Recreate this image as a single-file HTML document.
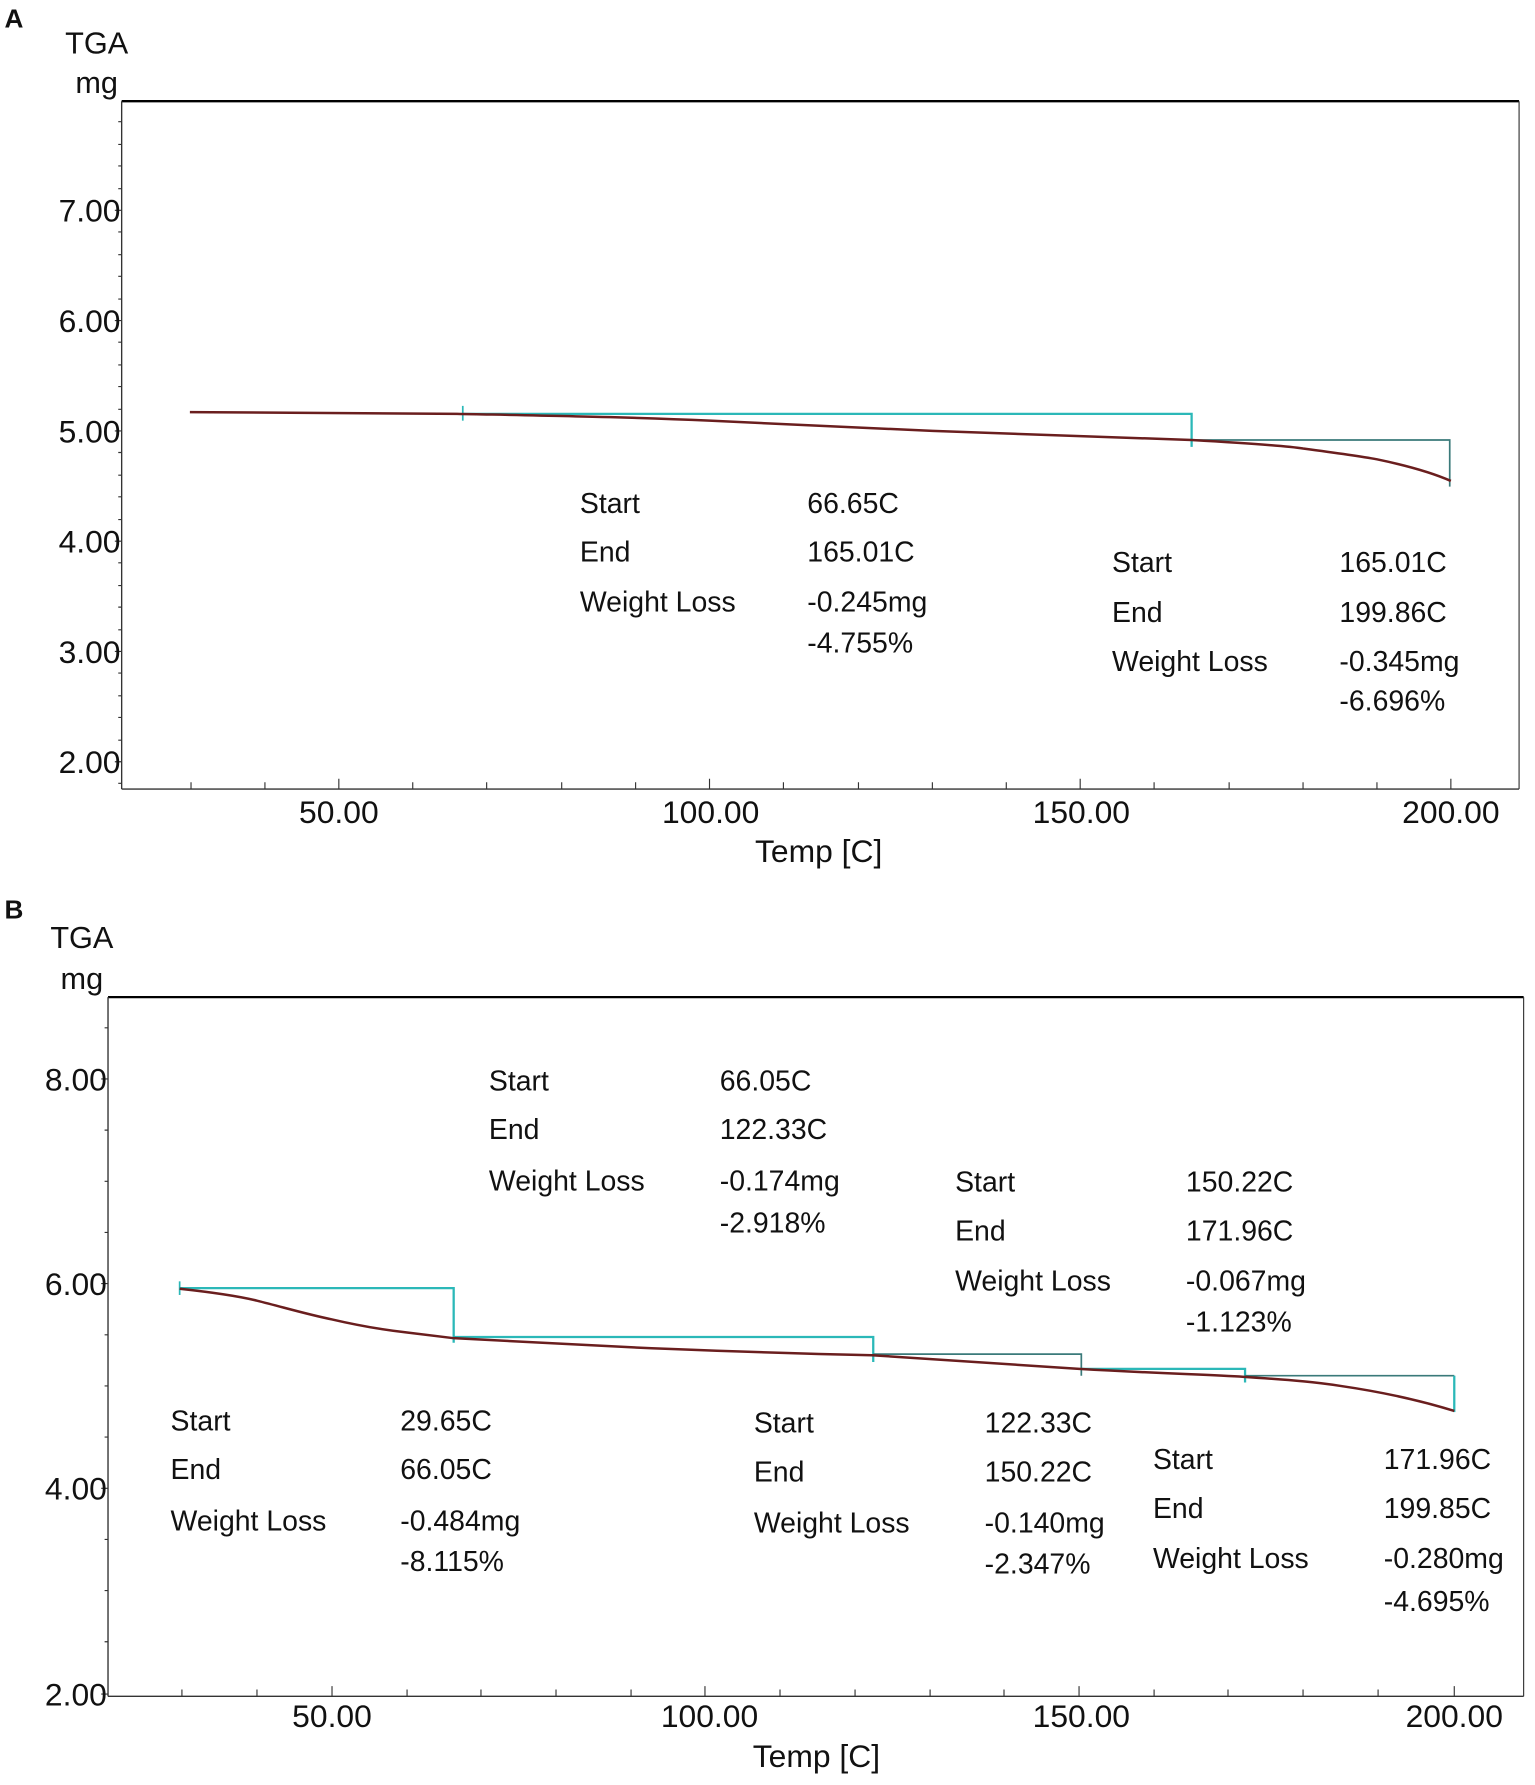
<!DOCTYPE html>
<html><head><meta charset="utf-8"><style>
html,body{margin:0;padding:0;background:#fff;}
svg{display:block}
text{font-family:"Liberation Sans Narrow","Liberation Sans",sans-serif;fill:#111}
</style></head><body>
<svg width="1535" height="1785" viewBox="0 0 1350 1570" preserveAspectRatio="none">
<!-- Panel A -->
<text x="4" y="24" font-size="23" font-weight="bold" style="font-family:'Liberation Sans'">A</text>
<text x="85" y="47" font-size="27" text-anchor="middle">TGA</text>
<text x="85" y="82" font-size="27" text-anchor="middle">mg</text>
<line x1="107" y1="89" x2="1336" y2="89" stroke="#000" stroke-width="2"/>
<line x1="1336" y1="89" x2="1336" y2="694" stroke="#333" stroke-width="1"/>
<line x1="107" y1="89" x2="107" y2="694" stroke="#333" stroke-width="1.2"/>
<line x1="107" y1="694" x2="1336" y2="694" stroke="#333" stroke-width="1.2"/>
<g stroke="#333" stroke-width="1">
<path d="M107 185h-6M107 282h-6M107 379h-6M107 476h-6M107 573h-6M107 670h-6"/>
<path d="M107 107h-3M107 127h-3M107 146h-3M107 166h-3M107 204h-3M107 224h-3M107 243h-3M107 263h-3M107 301h-3M107 321h-3M107 340h-3M107 360h-3M107 398h-3M107 418h-3M107 437h-3M107 457h-3M107 495h-3M107 515h-3M107 534h-3M107 554h-3M107 592h-3M107 612h-3M107 631h-3M107 651h-3M107 689h-3"/>
<path d="M168 694v-6M233 694v-6M298 694v-9M363 694v-6M428 694v-6M494 694v-6M559 694v-6M624 694v-9M689 694v-6M755 694v-6M820 694v-6M885 694v-6M950 694v-9M1015 694v-6M1081 694v-6M1146 694v-6M1211 694v-6M1276 694v-9"/>
</g>
<g font-size="28" text-anchor="end">
<text x="106" y="195">7.00</text><text x="106" y="292">6.00</text><text x="106" y="389">5.00</text>
<text x="106" y="486">4.00</text><text x="106" y="583">3.00</text><text x="106" y="680">2.00</text>
</g>
<g font-size="28" text-anchor="middle">
<text x="298" y="724">50.00</text><text x="625" y="724">100.00</text><text x="951" y="724">150.00</text><text x="1276" y="724">200.00</text>
<text x="720" y="758">Temp  [C]</text>
</g>
<polyline points="407,364 1048,364 1048,393" fill="none" stroke="#2bb8b8" stroke-width="2"/>
<line x1="407" y1="357" x2="407" y2="370" stroke="#2bb8b8" stroke-width="1.5"/>
<polyline points="1048,387 1275,387 1275,428" fill="none" stroke="#3a7a7a" stroke-width="1.5"/>
<path d="M167,362.5 L402,364 C500,366 560,367 624,370 C720,374 780,377 820,379 C900,382 980,384 1048,387 C1100,390 1130,392 1146,394.5 C1180,399 1200,402 1211,404 C1240,410 1260,416 1276,423" fill="none" stroke="#6a1e1e" stroke-width="2.2"/>
<g font-size="25">
<text x="510" y="451">Start</text><text x="710" y="451">66.65C</text>
<text x="510" y="494">End</text><text x="710" y="494">165.01C</text>
<text x="510" y="538">Weight Loss</text><text x="710" y="538">-0.245mg</text>
<text x="710" y="574">-4.755%</text>
<text x="978" y="503">Start</text><text x="1178" y="503">165.01C</text>
<text x="978" y="547">End</text><text x="1178" y="547">199.86C</text>
<text x="978" y="590">Weight Loss</text><text x="1178" y="590">-0.345mg</text>
<text x="1178" y="625">-6.696%</text>
</g>
<!-- Panel B -->
<text x="4" y="808" font-size="23" font-weight="bold" style="font-family:'Liberation Sans'">B</text>
<text x="72" y="834" font-size="27" text-anchor="middle">TGA</text>
<text x="72" y="870" font-size="27" text-anchor="middle">mg</text>
<line x1="95" y1="877" x2="1340" y2="877" stroke="#000" stroke-width="2"/>
<line x1="1340" y1="877" x2="1340" y2="1492" stroke="#333" stroke-width="1"/>
<line x1="95" y1="877" x2="95" y2="1492" stroke="#333" stroke-width="1.2"/>
<line x1="95" y1="1492" x2="1340" y2="1492" stroke="#333" stroke-width="1.2"/>
<g stroke="#333" stroke-width="1">
<path d="M95 949h-6M95 1129h-6M95 1309h-6M95 1490h-6"/>
<path d="M95 904h-3M95 994h-3M95 1039h-3M95 1084h-3M95 1174h-3M95 1219h-3M95 1264h-3M95 1354h-3M95 1399h-3M95 1444h-3"/>
<path d="M160 1492v-6M226 1492v-6M292 1492v-9M358 1492v-6M423 1492v-6M489 1492v-6M555 1492v-6M620 1492v-9M686 1492v-6M752 1492v-6M818 1492v-6M883 1492v-6M949 1492v-9M1015 1492v-6M1080 1492v-6M1146 1492v-6M1212 1492v-6M1279 1492v-9"/>
</g>
<g font-size="28" text-anchor="end">
<text x="94" y="959">8.00</text><text x="94" y="1139">6.00</text><text x="94" y="1319">4.00</text><text x="94" y="1500">2.00</text>
</g>
<g font-size="28" text-anchor="middle">
<text x="292" y="1519">50.00</text><text x="624" y="1519">100.00</text><text x="951" y="1519">150.00</text><text x="1279" y="1519">200.00</text>
<text x="718" y="1554">Temp  [C]</text>
</g>
<polyline points="158,1133 399,1133 399,1181" fill="none" stroke="#2bb8b8" stroke-width="2"/>
<line x1="158" y1="1127" x2="158" y2="1139" stroke="#2bb8b8" stroke-width="1.5"/>
<polyline points="399,1176 768,1176 768,1198" fill="none" stroke="#2bb8b8" stroke-width="2"/>
<polyline points="768,1191 951,1191 951,1210" fill="none" stroke="#3a7a7a" stroke-width="1.5"/>
<polyline points="951,1204 1095,1204 1095,1216" fill="none" stroke="#2bb8b8" stroke-width="2"/>
<polyline points="1095,1210 1279,1210" fill="none" stroke="#3a7a7a" stroke-width="1.5"/>
<line x1="1279" y1="1210" x2="1279" y2="1242" stroke="#2bb8b8" stroke-width="2"/>
<path d="M158,1133.5 C190,1137 210,1140 226,1144 C250,1150 270,1156 292,1160.5 C320,1167 340,1170 358,1172 C375,1174 390,1176 399,1177 C470,1181 520,1183 555,1185 C650,1189 720,1191 767,1192 C850,1197 900,1201 949,1204 C1020,1208 1060,1209 1094,1211 C1140,1214 1160,1216 1179,1219 C1220,1225 1250,1232 1279,1241" fill="none" stroke="#6a1e1e" stroke-width="2.2"/>
<g font-size="25">
<text x="430" y="959">Start</text><text x="633" y="959">66.05C</text>
<text x="430" y="1002">End</text><text x="633" y="1002">122.33C</text>
<text x="430" y="1047">Weight Loss</text><text x="633" y="1047">-0.174mg</text>
<text x="633" y="1084">-2.918%</text>
<text x="840" y="1048">Start</text><text x="1043" y="1048">150.22C</text>
<text x="840" y="1091">End</text><text x="1043" y="1091">171.96C</text>
<text x="840" y="1135">Weight Loss</text><text x="1043" y="1135">-0.067mg</text>
<text x="1043" y="1171">-1.123%</text>
<text x="150" y="1258">Start</text><text x="352" y="1258">29.65C</text>
<text x="150" y="1301">End</text><text x="352" y="1301">66.05C</text>
<text x="150" y="1346">Weight Loss</text><text x="352" y="1346">-0.484mg</text>
<text x="352" y="1382">-8.115%</text>
<text x="663" y="1260">Start</text><text x="866" y="1260">122.33C</text>
<text x="663" y="1303">End</text><text x="866" y="1303">150.22C</text>
<text x="663" y="1348">Weight Loss</text><text x="866" y="1348">-0.140mg</text>
<text x="866" y="1384">-2.347%</text>
<text x="1014" y="1292">Start</text><text x="1217" y="1292">171.96C</text>
<text x="1014" y="1335">End</text><text x="1217" y="1335">199.85C</text>
<text x="1014" y="1379">Weight Loss</text><text x="1217" y="1379">-0.280mg</text>
<text x="1217" y="1417">-4.695%</text>
</g>
</svg>
</body></html>
